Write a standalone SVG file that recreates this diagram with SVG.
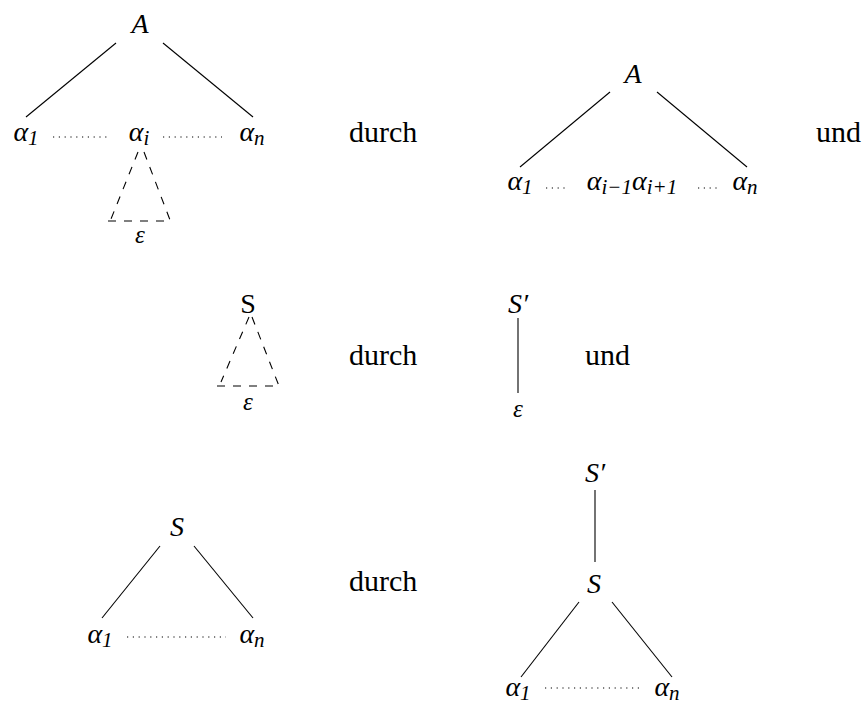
<svg xmlns="http://www.w3.org/2000/svg" width="866" height="702" viewBox="0 0 866 702">
<style>
.m{font-style:italic;font-size:28px;text-anchor:middle}
.r{font-size:30px}
.u{font-size:28px;text-anchor:middle}
.e{font-style:italic;font-size:25px;text-anchor:middle}
.sub{font-size:21px}
.l{stroke:#000;stroke-width:1.1;fill:none}
.d{stroke:#000;stroke-width:1.1;fill:none;stroke-dasharray:8 8}
.o{stroke:#000;stroke-width:1.1;fill:none;stroke-dasharray:1.2 4.6}
</style>
<rect width="866" height="702" fill="#fff"/>
<g id="connectors">
<line class="l" x1="116" y1="43" x2="26" y2="117"/>
<line class="l" x1="163" y1="43" x2="253" y2="117"/>
<line class="o" x1="53" y1="137" x2="111" y2="137"/>
<line class="o" x1="163" y1="137" x2="222" y2="137"/>
<line class="d" x1="138" y1="152" x2="111" y2="219"/>
<line class="d" x1="144" y1="152" x2="170" y2="220"/>
<line class="d" x1="108" y1="221" x2="166" y2="221"/>
<line class="l" x1="610" y1="92" x2="520" y2="167"/>
<line class="l" x1="657" y1="92" x2="747" y2="167"/>
<line class="o" x1="546" y1="188" x2="566" y2="188"/>
<line class="o" x1="698" y1="188" x2="720" y2="188"/>
<line class="d" x1="249" y1="317" x2="221" y2="382"/>
<line class="d" x1="252" y1="317" x2="279" y2="386"/>
<line class="d" x1="217" y1="386" x2="278" y2="386"/>
<line class="l" x1="518" y1="318" x2="518" y2="393"/>
<line class="l" x1="160" y1="546" x2="102" y2="618"/>
<line class="l" x1="194" y1="546" x2="253" y2="618"/>
<line class="o" x1="127" y1="637" x2="226" y2="637"/>
<line class="l" x1="595" y1="490" x2="595" y2="562"/>
<line class="l" x1="579" y1="602" x2="521" y2="677"/>
<line class="l" x1="612" y1="602" x2="672" y2="677"/>
<line class="o" x1="545" y1="688" x2="643" y2="688"/>
</g>
<g font-family="Liberation Serif, serif" fill="#000">
<g id="tree1">
<text class="m" x="140" y="33">A</text>
<text class="m" x="26" y="141">α<tspan class="sub" dy="4">1</tspan></text>
<text class="m" x="139" y="141">α<tspan class="sub" dy="4">i</tspan></text>
<text class="m" x="252" y="141">α<tspan class="sub" dy="4">n</tspan></text>
<text class="e" x="140" y="243">ε</text>
</g>
<g id="durch1"><text class="r" x="349" y="142">durch</text></g>
<g id="tree2">
<text class="m" x="633" y="83">A</text>
<text class="m" x="520" y="190">α<tspan class="sub" dy="4">1</tspan></text>
<text class="m" x="632" y="190">α<tspan class="sub" dy="4">i−1</tspan><tspan dy="-4">α</tspan><tspan class="sub" dy="4">i+1</tspan></text>
<text class="m" x="745" y="190">α<tspan class="sub" dy="4">n</tspan></text>
</g>
<g id="und1"><text class="r" x="816" y="142">und</text></g>
<g id="tree3">
<text class="u" x="248" y="313">S</text>
<text class="e" x="248" y="410">ε</text>
</g>
<g id="durch2"><text class="r" x="349" y="365">durch</text></g>
<g id="tree4">
<text class="m" x="518" y="313">S′</text>
<text class="e" x="518" y="417">ε</text>
</g>
<g id="und2"><text class="r" x="585" y="365">und</text></g>
<g id="tree5">
<text class="m" x="177" y="536">S</text>
<text class="m" x="100" y="643">α<tspan class="sub" dy="4">1</tspan></text>
<text class="m" x="252" y="643">α<tspan class="sub" dy="4">n</tspan></text>
</g>
<g id="durch3"><text class="r" x="349" y="591">durch</text></g>
<g id="tree6">
<text class="m" x="595" y="482">S′</text>
<text class="m" x="594" y="593">S</text>
<text class="m" x="518" y="696">α<tspan class="sub" dy="4">1</tspan></text>
<text class="m" x="667" y="696">α<tspan class="sub" dy="4">n</tspan></text>
</g>
</g>
</svg>
